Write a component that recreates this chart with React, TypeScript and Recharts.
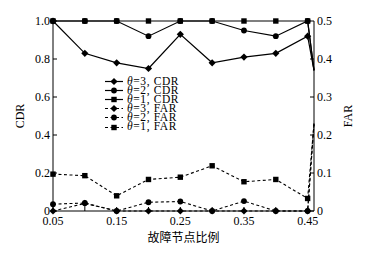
import React from 'react';
import { LineChart, Line, XAxis, YAxis, Legend } from 'recharts';

// fault node ratio (last value is the right edge where all lines end)
const ratios = [0.05, 0.1, 0.15, 0.2, 0.25, 0.3, 0.35, 0.4, 0.45, 0.46];
const cdrTheta3 = [1.0, 0.83, 0.78, 0.75, 0.93, 0.78, 0.81, 0.83, 0.92, 0.74];
const cdrTheta2 = [1.0, 1.0, 1.0, 0.92, 1.0, 1.0, 0.95, 0.92, 1.0, 0.74];
const cdrTheta1 = [1.0, 1.0, 1.0, 1.0, 1.0, 1.0, 1.0, 1.0, 1.0, 0.74];
const farTheta3 = [0, 0.02, 0, 0, 0, 0, 0, 0, 0, 0.23];
const farTheta2 = [0.018, 0.021, 0, 0.023, 0.025, 0, 0.026, 0, 0, 0.23];
const farTheta1 = [0.097, 0.093, 0.04, 0.083, 0.089, 0.119, 0.077, 0.083, 0.033, 0.23];

const xTicks = [0.05, 0.1, 0.15, 0.2, 0.25, 0.3, 0.35, 0.4, 0.45];
const cdrTicks = [0, 0.2, 0.4, 0.6, 0.8, 1.0];
const farTicks = [0, 0.1, 0.2, 0.3, 0.4, 0.5];

const data = ratios.map((x, i) => ({
  x,
  c3: cdrTheta3[i],
  c2: cdrTheta2[i],
  c1: cdrTheta1[i],
  f3: farTheta3[i],
  f2: farTheta2[i],
  f1: farTheta1[i],
}));

const LAST = ratios.length - 1;
const SERIF = '"Liberation Serif", "DejaVu Serif", serif';
const CJK = '"Noto Sans CJK SC", sans-serif';

type Shape = 'diamond' | 'circle' | 'square';

const drawMarker = (shape: Shape, cx: number, cy: number, key?: any) => {
  if (shape === 'diamond') {
    return (
      <polygon
        key={key}
        points={`${cx},${cy - 3.6} ${cx + 3.6},${cy} ${cx},${cy + 3.6} ${cx - 3.6},${cy}`}
        fill="#000"
      />
    );
  }
  if (shape === 'circle') {
    return <circle key={key} cx={cx} cy={cy} r={2.9} fill="#000" />;
  }
  return <rect key={key} x={cx - 2.7} y={cy - 2.7} width={5.4} height={5.4} fill="#000" />;
};

const makeDot = (shape: Shape) => (props: any) => {
  const { cx, cy, index } = props;
  if (index === LAST || cx == null || cy == null) return <g key={`e${index}`} />;
  return drawMarker(shape, cx, cy, `d${index}`);
};

const legendItems: { label: string; shape: Shape; dashed: boolean }[] = [
  { label: '=3, CDR', shape: 'diamond', dashed: false },
  { label: '=2, CDR', shape: 'circle', dashed: false },
  { label: '=1, CDR', shape: 'square', dashed: false },
  { label: '=3, FAR', shape: 'diamond', dashed: true },
  { label: '=2, FAR', shape: 'circle', dashed: true },
  { label: '=1, FAR', shape: 'square', dashed: true },
];

const LegendContent = () => (
  <div style={{ fontFamily: SERIF, fontSize: 11.5, color: '#000', letterSpacing: '0.6px' }}>
    {legendItems.map((it, i) => (
      <div key={i} style={{ display: 'flex', alignItems: 'center', height: 9.1, lineHeight: '9.1px', whiteSpace: 'nowrap' }}>
        <svg width={19} height={9} style={{ display: 'block', overflow: 'visible' }}>
          <line x1={0} y1={4.5} x2={18} y2={4.5} stroke="#000" strokeWidth={1.2} strokeDasharray={it.dashed ? '3 2.5' : undefined} />
          {drawMarker(it.shape, 9, 4.5)}
        </svg>
        <span style={{ marginLeft: 3 }}>
          <i>θ</i>
          {it.label}
        </span>
      </div>
    ))}
  </div>
);

const fmtX = (v: number) => {
  const k = Math.round(v * 100);
  return k % 10 === 5 ? v.toFixed(2) : '';
};
const fmtY = (v: number) => (v === 0 ? '0' : v.toFixed(1));

const tickStyle = { fill: '#000', fontSize: 12, fontFamily: SERIF };

export default function App() {
  return (
    <div style={{ position: 'absolute', left: 0, top: 0, background: '#fff' }}>
      <LineChart width={370} height={261} data={data} margin={{ top: 21, right: 0, bottom: 0, left: 0 }}>
        <XAxis
          dataKey="x"
          type="number"
          domain={[0.05, 0.46]}
          ticks={xTicks}
          tickFormatter={fmtX}
          tick={tickStyle}
          tickSize={-4}
          tickMargin={9}
          stroke="#000"
          height={50}
          interval={0}
          label={{
            content: (p: any) => {
              const vb = p.viewBox || {};
              return (
                <text x={vb.x + vb.width / 2} y={vb.y + 31} textAnchor="middle" fontSize={12} fontFamily={CJK} fill="#000">
                  故障节点比例
                </text>
              );
            },
          }}
        />
        <YAxis
          yAxisId="left"
          domain={[0, 1]}
          ticks={cdrTicks}
          tickFormatter={fmtY}
          tick={tickStyle}
          tickSize={-4}
          tickMargin={7}
          stroke="#000"
          width={53}
          interval={0}
          label={{
            content: (p: any) => {
              const vb = p.viewBox || {};
              const cx = vb.x + 20;
              const cy = vb.y + vb.height / 2;
              return (
                <text x={cx} y={cy} transform={`rotate(-90 ${cx} ${cy})`} textAnchor="middle" dominantBaseline="central" fontSize={12} fontFamily={SERIF} fill="#000">
                  CDR
                </text>
              );
            },
          }}
        />
        <YAxis
          yAxisId="right"
          orientation="right"
          domain={[0, 0.5]}
          ticks={farTicks}
          tickFormatter={fmtY}
          tick={tickStyle}
          tickSize={-4}
          tickMargin={7}
          stroke="#000"
          width={56}
          interval={0}
          label={{
            content: (p: any) => {
              const vb = p.viewBox || {};
              const cx = vb.x + 34;
              const cy = vb.y + vb.height / 2;
              return (
                <text x={cx} y={cy} transform={`rotate(-90 ${cx} ${cy})`} textAnchor="middle" dominantBaseline="central" fontSize={12} fontFamily={SERIF} fill="#000">
                  FAR
                </text>
              );
            },
          }}
        />
        <Legend
          layout="vertical"
          align="center"
          verticalAlign="middle"
          content={<LegendContent />}
          wrapperStyle={{ position: 'absolute', left: 105, top: 77, width: 'auto', height: 'auto' }}
        />
        <Line yAxisId="left" dataKey="c3" stroke="#000" strokeWidth={1.2} dot={makeDot('diamond')} activeDot={false} isAnimationActive={false} />
        <Line yAxisId="left" dataKey="c2" stroke="#000" strokeWidth={1.2} dot={makeDot('circle')} activeDot={false} isAnimationActive={false} />
        <Line yAxisId="left" dataKey="c1" stroke="#000" strokeWidth={1.2} dot={makeDot('square')} activeDot={false} isAnimationActive={false} />
        <Line yAxisId="right" dataKey="f3" stroke="#000" strokeWidth={1.1} strokeDasharray="3 2.5" dot={makeDot('diamond')} activeDot={false} isAnimationActive={false} />
        <Line yAxisId="right" dataKey="f2" stroke="#000" strokeWidth={1.1} strokeDasharray="3 2.5" dot={makeDot('circle')} activeDot={false} isAnimationActive={false} />
        <Line yAxisId="right" dataKey="f1" stroke="#000" strokeWidth={1.1} strokeDasharray="3 2.5" dot={makeDot('square')} activeDot={false} isAnimationActive={false} />
      </LineChart>
    </div>
  );
}
